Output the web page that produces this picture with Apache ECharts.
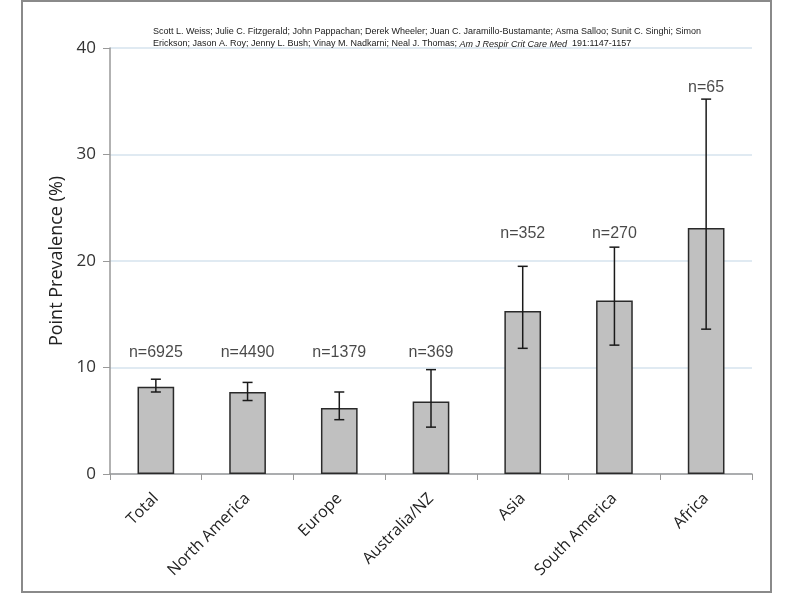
<!DOCTYPE html>
<html>
<head>
<meta charset="utf-8">
<script src="https://cdn.jsdelivr.net/npm/echarts@6/dist/echarts.min.js"></script>
<style>html,body{margin:0;padding:0;background:#fff}#c{width:794px;height:595px}</style>
</head>
<body>
<div id="c"></div>
<script>
const categories = ['Total', 'North America', 'Europe', 'Australia/NZ', 'Asia', 'South America', 'Africa'];
const prevalence = [8.2, 7.7, 6.2, 6.8, 15.3, 16.3, 23.1];
const ciLow = [7.7, 6.9, 5.1, 4.4, 11.8, 12.1, 13.6];
const ciHigh = [8.9, 8.6, 7.7, 9.8, 19.5, 21.3, 35.2];
const nLabels = ['n=6925', 'n=4490', 'n=1379', 'n=369', 'n=352', 'n=270', 'n=65'];
const nLabelPos = [11.4, 11.4, 11.4, 11.4, 22.6, 22.6, 36.3];
const yTicks = [0, 10, 20, 30, 40];

const chart = echarts.init(document.getElementById('c'));
const option = {
  animation: false,
  backgroundColor: '#fff',
  grid: { left: 110, right: 42, top: 48, bottom: 121 },
  graphic: [
    { type: 'rect', shape: { x: 22, y: 1, width: 749, height: 591 }, style: { fill: 'none', stroke: '#8a8a8a', lineWidth: 2 }, silent: true },
    { type: 'text', left: 153, top: 26, z: 10, style: {
        text: '{n|Scott L. Weiss; Julie C. Fitzgerald; John Pappachan; Derek Wheeler; Juan C. Jaramillo-Bustamante; Asma Salloo; Sunit C. Singhi; Simon}\n{n|Erickson; Jason A. Roy; Jenny L. Bush; Vinay M. Nadkarni; Neal J. Thomas; }{i|Am J Respir Crit Care Med}{n|  191:1147-1157}',
        font: '9px "Liberation Sans"', fill: '#1a1a1a', lineHeight: 12,
        rich: { n: { fontSize: 9, fontFamily: 'Liberation Sans', fill: '#1a1a1a', lineHeight: 12 }, i: { fontSize: 9, fontStyle: 'italic', fontFamily: 'Liberation Sans', fill: '#1a1a1a', lineHeight: 12 } }
      } }
  ],
  xAxis: {
    type: 'category',
    data: categories,
    axisLine: { lineStyle: { color: '#999', width: 1.5 } },
    axisTick: { show: true, length: 6, lineStyle: { color: '#999' } },
    axisLabel: { rotate: 45, fontFamily: 'Open Sans', fontSize: 16, color: '#222', margin: 22 }
  },
  yAxis: {
    type: 'value', min: 0, max: 40, interval: 10,
    name: 'Point Prevalence (%)', nameLocation: 'middle', nameGap: 42,
    nameTextStyle: { fontFamily: 'Open Sans', fontSize: 18, color: '#222' },
    axisLine: { show: true, lineStyle: { color: '#999', width: 1.5 } },
    axisTick: { show: true, length: 7, lineStyle: { color: '#999' } },
    axisLabel: { fontFamily: 'Open Sans', fontSize: 17, color: '#333', margin: 14,
      formatter: v => yTicks.includes(v) ? String(v) : '' },
    splitLine: { lineStyle: { color: '#d6e3ee', width: 1.5 } }
  },
  series: [
    {
      type: 'bar', data: prevalence, barWidth: '40%',
      itemStyle: { color: '#c0c0c0', borderColor: '#2a2a2a', borderWidth: 1.5 }
    },
    {
      type: 'custom',
      data: categories.map((c, i) => [i, ciLow[i], ciHigh[i]]),
      renderItem: function (params, api) {
        const lo = api.coord([api.value(0), api.value(1)]);
        const hi = api.coord([api.value(0), api.value(2)]);
        const w = 5;
        const st = { stroke: '#1a1a1a', lineWidth: 1.5 };
        return { type: 'group', children: [
          { type: 'line', shape: { x1: lo[0], y1: lo[1], x2: hi[0], y2: hi[1] }, style: st },
          { type: 'line', shape: { x1: lo[0] - w, y1: lo[1], x2: lo[0] + w, y2: lo[1] }, style: st },
          { type: 'line', shape: { x1: hi[0] - w, y1: hi[1], x2: hi[0] + w, y2: hi[1] }, style: st }
        ] };
      },
      z: 5
    },
    {
      type: 'scatter', symbolSize: 0,
      data: nLabelPos,
      label: { show: true, position: 'inside', formatter: p => nLabels[p.dataIndex],
        fontFamily: 'Liberation Sans', fontSize: 16, color: '#1a1a1a' }
    }
  ]
};
chart.setOption(option);
</script>
</body>
</html>
